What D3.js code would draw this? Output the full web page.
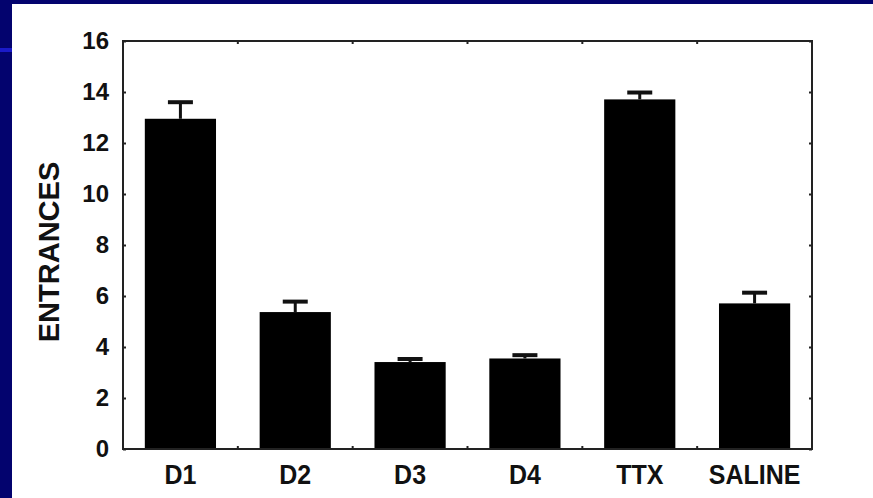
<!DOCTYPE html>
<html>
<head>
<meta charset="utf-8">
<script src="https://cdn.jsdelivr.net/npm/d3@7"></script>
<style>
  body { margin: 0; background: #fff; }
  svg { display: block; }
  text { font-family: "Liberation Sans", Arial, sans-serif; font-weight: bold; fill: #111; }
</style>
</head>
<body>
<script>
var categories = ["D1", "D2", "D3", "D4", "TTX", "SALINE"];
var means = [12.95, 5.37, 3.41, 3.55, 13.71, 5.71];
var errTop = [13.6, 5.78, 3.53, 3.68, 13.98, 6.13];
var yTicks = [0, 2, 4, 6, 8, 10, 12, 14, 16];

var W = 873, H = 498;
var margin = { top: 41, right: 61, bottom: 49, left: 123 };
var width = W - margin.left - margin.right;
var height = H - margin.top - margin.bottom;

var svg = d3.select("body")
    .append("svg")
    .attr("width", W)
    .attr("height", H);

// navy slide border
svg.append("rect").attr("x", 0).attr("y", 0).attr("width", W).attr("height", 4).attr("fill", "#03036e");
svg.append("rect").attr("x", 0).attr("y", 0).attr("width", 12).attr("height", H).attr("fill", "#03036e");
svg.append("rect").attr("x", 0).attr("y", 48).attr("width", 12).attr("height", 4).attr("fill", "#1a1ac8");

var g = svg.append("g")
    .attr("transform", "translate(" + margin.left + "," + margin.top + ")");

var pad = 0.38;
var x = d3.scaleBand()
    .domain(categories)
    .range([0, width])
    .paddingInner(pad)
    .paddingOuter(pad / 2);

var y = d3.scaleLinear()
    .domain([0, 16])
    .range([height, 0]);

var yAxis = d3.axisLeft(y)
    .tickValues(yTicks)
    .tickSizeInner(-3)
    .tickSizeOuter(0)
    .tickPadding(14);

var ya = g.append("g").attr("class", "y axis").call(yAxis);
ya.select(".domain").remove();
ya.selectAll("line").attr("stroke", "#222").attr("stroke-width", 2);
ya.selectAll("text").style("font-size", "24px").attr("fill", "#111");

var yRight = d3.axisRight(y)
    .tickValues(yTicks)
    .tickSizeInner(-3)
    .tickSizeOuter(0)
    .tickFormat("");
var yr = g.append("g").attr("transform", "translate(" + width + ",0)").call(yRight);
yr.select(".domain").remove();
yr.selectAll("line").attr("stroke", "#222").attr("stroke-width", 2);

// ticks between bars, top and bottom
var bounds = categories.slice(0, -1).map(function (c) {
    return x(c) + x.bandwidth() + x.step() * pad / 2;
});
g.selectAll(".btick").data(bounds).enter().append("line")
    .attr("x1", function (d) { return d; }).attr("x2", function (d) { return d; })
    .attr("y1", height).attr("y2", height - 3)
    .attr("stroke", "#222").attr("stroke-width", 2);
g.selectAll(".ttick").data(bounds).enter().append("line")
    .attr("x1", function (d) { return d; }).attr("x2", function (d) { return d; })
    .attr("y1", 0).attr("y2", 3)
    .attr("stroke", "#222").attr("stroke-width", 2);

// bars
g.selectAll(".bar").data(categories).enter().append("rect")
    .attr("class", "bar")
    .attr("x", function (d) { return x(d); })
    .attr("y", function (d, i) { return y(means[i]); })
    .attr("width", x.bandwidth())
    .attr("height", function (d, i) { return height - y(means[i]); })
    .attr("fill", "#000");

// error bars (upper only)
var capW = 25;
var eb = g.selectAll(".err").data(categories).enter().append("g").attr("class", "err");
eb.append("line")
    .attr("x1", function (d) { return x(d) + x.bandwidth() / 2; })
    .attr("x2", function (d) { return x(d) + x.bandwidth() / 2; })
    .attr("y1", function (d, i) { return y(means[i]); })
    .attr("y2", function (d, i) { return y(errTop[i]); })
    .attr("stroke", "#111").attr("stroke-width", 3);
eb.append("line")
    .attr("x1", function (d) { return x(d) + x.bandwidth() / 2 - capW / 2; })
    .attr("x2", function (d) { return x(d) + x.bandwidth() / 2 + capW / 2; })
    .attr("y1", function (d, i) { return y(errTop[i]); })
    .attr("y2", function (d, i) { return y(errTop[i]); })
    .attr("stroke", "#111").attr("stroke-width", 4);

// frame
g.append("rect")
    .attr("x", 0).attr("y", 0)
    .attr("width", width).attr("height", height)
    .attr("fill", "none")
    .attr("stroke", "#222").attr("stroke-width", 2);

// category labels
g.selectAll(".xlab").data(categories).enter().append("text")
    .attr("class", "xlab")
    .attr("transform", function (d) {
        return "translate(" + (x(d) + x.bandwidth() / 2) + "," + (height + 35) + ") scale(1,1.12)";
    })
    .attr("text-anchor", "middle")
    .style("font-size", "25px")
    .text(function (d) { return d; });

svg.append("text")
    .attr("transform", "translate(59,252) rotate(-90)")
    .attr("text-anchor", "middle")
    .style("font-size", "29px")
    .text("ENTRANCES");
</script>
</body>
</html>
